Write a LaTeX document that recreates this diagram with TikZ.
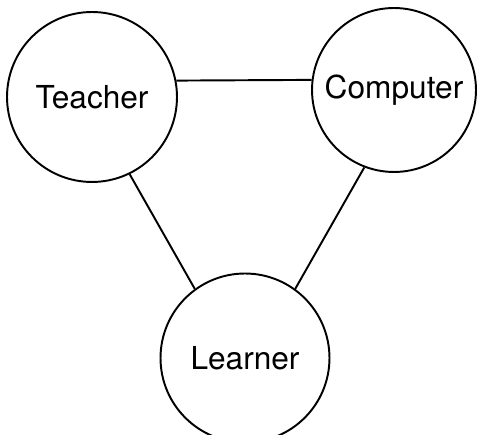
\documentclass[tikz,border=0pt]{standalone}
\usepackage{fontspec}
\setmainfont{TeX Gyre Heros}
\usepackage{tikz}
\usetikzlibrary{positioning}

\begin{document}
\begin{tikzpicture}[x=0.02cm, y=0.02cm, line width=1.1pt,
  role/.style={draw, circle, inner sep=0pt, font=\fontsize{18}{20}\selectfont}]
  \useasboundingbox (0,0) rectangle (477,435);
  % Nodes
  \node [role, minimum size=3.4cm] (teacher) at (92,338) {Teacher};
  \node [role, minimum size=3.28cm] (computer) at (394,345) {Computer};
  \node [role, minimum size=3.38cm] (learner) at (245,77) {Learner};
  % Lines
  \draw (teacher.11) -- (computer.173);
  \draw (teacher.-64) -- (learner.126);
  \draw (computer.-111) -- (learner.54);
\end{tikzpicture}
\end{document}
